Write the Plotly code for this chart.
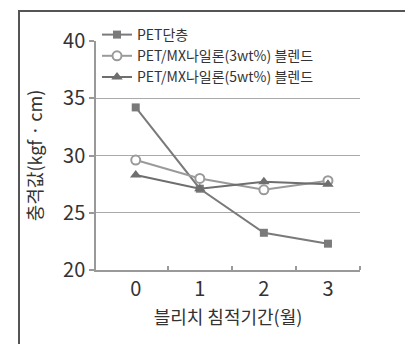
import plotly.graph_objects as go

months = [0, 1, 2, 3]
tick_labels = ["0", "1", "2", "3"]
y_ticks = [20, 25, 30, 35, 40]
pet_single = [34.2, 27.1, 23.25, 22.3]
pet_mx3 = [29.6, 28.0, 27.0, 27.8]
pet_mx5 = [28.3, 27.1, 27.7, 27.5]

names = ["PET단층", "PET/MX나일론(3wt%) 블렌드", "PET/MX나일론(5wt%) 블렌드"]

FONT = "Liberation Sans Narrow, Noto Sans CJK KR, sans-serif"
W, H = 413, 344
L, R, T, B = 88, 61, 33, 82
pw, ph = W - L - R, H - T - B

fig = go.Figure()
fig.add_trace(go.Scatter(x=months, y=pet_single, name=names[0], mode="lines+markers",
                         line=dict(color="#7a7a7a", width=2),
                         marker=dict(symbol="square", size=8, color="#7a7a7a")))
fig.add_trace(go.Scatter(x=months, y=pet_mx3, name=names[1], mode="lines+markers",
                         line=dict(color="#9a9a9a", width=2),
                         marker=dict(symbol="circle", size=9, color="white",
                                     line=dict(color="#9a9a9a", width=2))))
fig.add_trace(go.Scatter(x=months, y=pet_mx5, name=names[2], mode="lines+markers",
                         line=dict(color="#6e6e6e", width=2),
                         marker=dict(symbol="triangle-up", size=10, color="#6e6e6e")))

def px_x(p):
    return (p - L) / pw

def px_y(p):
    return (H - B - p) / ph

fig.add_shape(type="rect", xref="paper", yref="paper",
              x0=px_x(11), x1=px_x(425), y0=px_y(342), y1=px_y(3),
              line=dict(color="#555555", width=2), fillcolor="rgba(0,0,0,0)")

fig.update_layout(
    width=W, height=H,
    margin=dict(l=L, r=R, t=T, b=B, autoexpand=False),
    paper_bgcolor="white", plot_bgcolor="white",
    font=dict(family=FONT, color="#333333"),
    showlegend=True,
    legend=dict(x=px_x(89), y=px_y(11), xanchor="left", yanchor="top",
                bgcolor="rgba(0,0,0,0)", font=dict(size=14, family=FONT, color="#333333"),
                tracegroupgap=0, itemwidth=30),
    xaxis=dict(range=[-0.62, 3.5], tickmode="array", tickvals=months, ticktext=tick_labels,
               ticks="", showgrid=False, zeroline=False,
               showline=True, linecolor="#999999", linewidth=1.5,
               tickfont=dict(size=20, family=FONT, color="#333333"),
               ticklabelstandoff=0,
               minor=dict(tickmode="array", tickvals=[0.5, 1.5, 2.5, 3.5], ticks="inside",
                          ticklen=4, tickcolor="#999999", tickwidth=1.5, showgrid=False),
               title=dict(text="블리치 침적기간(월)", font=dict(size=18, family=FONT, color="#333333"),
                          standoff=11)),
    yaxis=dict(range=[20, 40], tickmode="array", tickvals=y_ticks,
               ticks="outside", ticklen=5, tickcolor="#999999", tickwidth=1.5,
               showgrid=True, gridcolor="#aaaaaa", gridwidth=1, zeroline=False,
               showline=True, linecolor="#999999", linewidth=1.5,
               tickfont=dict(size=20, family=FONT, color="#333333"),
               ticksuffix="\u00a0",
               title=dict(text="충격값(kgf · cm)", font=dict(size=18, family=FONT, color="#333333"),
                          standoff=16)),
)

fig.write_html("out.html")
